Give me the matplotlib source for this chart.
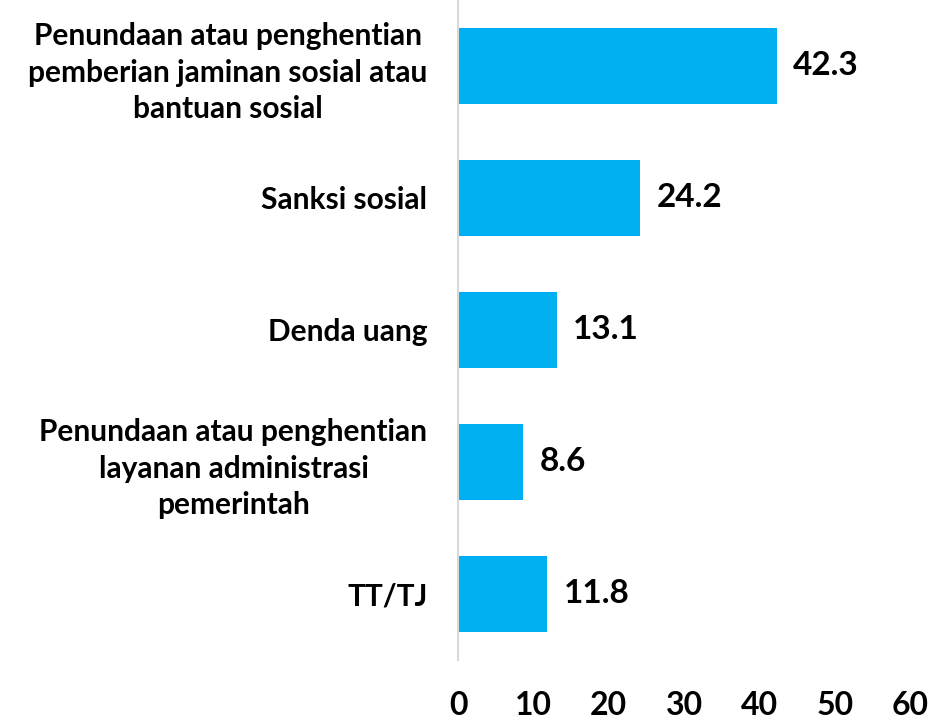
import matplotlib.pyplot as plt

# data
kategori = [
    'Penundaan atau penghentian\npemberian jaminan sosial atau\nbantuan sosial',
    'Sanksi sosial',
    'Denda uang',
    'Penundaan atau penghentian\nlayanan administrasi\npemerintah',
    'TT/TJ',
]
nilai = [42.3, 24.2, 13.1, 8.6, 11.8]
xticks = [0, 10, 20, 30, 40, 50, 60]

plt.rcParams['font.family'] = ['Lato', 'DejaVu Sans']
plt.rcParams['font.weight'] = 'bold'

fig = plt.figure(figsize=(9.3, 7.22), dpi=100)
ax = fig.add_axes([0.4925, 0.0859, 0.486, 0.9141])

pos = list(range(len(kategori)))
ax.barh(pos, nilai, height=0.576, color='#00B0F0')
for y, v in zip(pos, nilai):
    ax.text(v + 2.2, y, f'{v:.1f}', va='center', ha='left', fontsize=24, fontweight='bold')

ax.set_ylim(4.5, -0.5)
ax.set_xlim(0, 60)
ax.set_xticks(xticks)
ax.set_xticklabels([str(t) for t in xticks], fontsize=23, fontweight='bold')
ax.set_yticks(pos)
ax.set_yticklabels(kategori, fontsize=21.5, fontweight='bold')
plt.setp(ax.get_yticklabels(), multialignment='center', linespacing=1.35)
ax.tick_params(axis='x', length=0, pad=22)
ax.tick_params(axis='y', length=0, pad=22)

for s in ['top', 'right', 'bottom']:
    ax.spines[s].set_visible(False)
ax.spines['left'].set_color('#D9D9D9')
ax.spines['left'].set_linewidth(1.5)

fig.savefig('out.png', dpi=100)
